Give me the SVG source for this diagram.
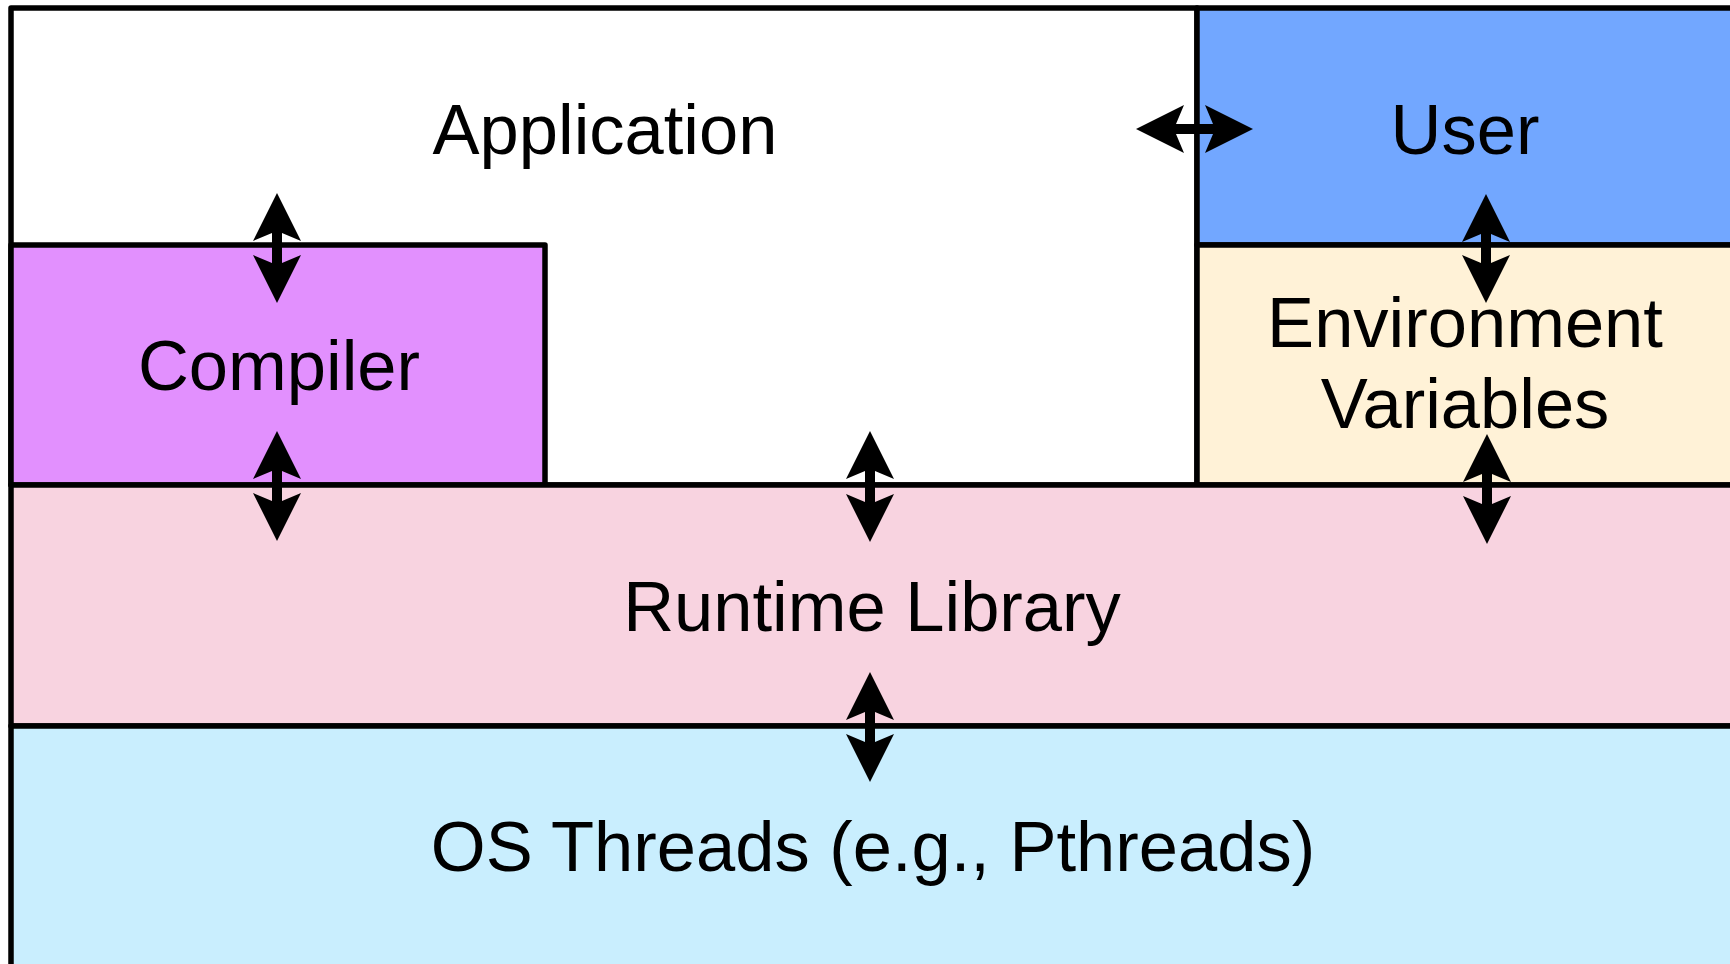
<svg xmlns="http://www.w3.org/2000/svg" width="1730" height="964" viewBox="0 0 1730 964">
  <style>
    .box { stroke: #000; stroke-width: 5.5; stroke-linejoin: round; }
    .label { font-family: "Liberation Sans", Arial, sans-serif; font-size: 70.5px; fill: #000; text-anchor: middle; }
    .arr { fill: #000; stroke: none; }
  </style>
  <rect width="1730" height="964" fill="#ffffff"/>

  <g id="application">
    <rect class="box" x="11" y="8" width="1186" height="477" fill="#ffffff"/>
    <text class="label" x="605" y="154">Application</text>
  </g>

  <g id="user">
    <rect class="box" x="1197" y="8" width="540" height="237" fill="#72A7FF"/>
    <text class="label" x="1465" y="154">User</text>
  </g>

  <g id="environment-variables">
    <rect class="box" x="1197" y="245" width="540" height="240" fill="#FFF2D7"/>
    <text class="label" x="1465" y="347">Environment</text>
    <text class="label" x="1465" y="428">Variables</text>
  </g>

  <g id="compiler">
    <rect class="box" x="11" y="245" width="534" height="240" fill="#E290FE"/>
    <text class="label" x="279" y="390">Compiler</text>
  </g>

  <g id="runtime-library">
    <rect class="box" x="11" y="485" width="1726" height="241" fill="#F8D3E0"/>
    <text class="label" x="872" y="631">Runtime Library</text>
  </g>

  <g id="os-threads">
    <rect class="box" x="11" y="726" width="1726" height="260" fill="#C9EEFE"/>
    <text class="label" x="873" y="871">OS Threads (e.g., Pthreads)</text>
  </g>

  <!-- double-headed arrows: head 48 long, 48 wide, shaft 10 wide -->
  <g id="connectors">
    <!-- Application <-> User -->
    <polygon class="arr" points="1136,129 1184,105 1176,124 1213,124 1205,105 1253,129 1205,153 1213,134 1176,134 1184,153"/>
    <!-- Application <-> Compiler -->
    <polygon class="arr" points="277,193 301,241 282,233 282,263 301,255 277,303 253,255 272,263 272,233 253,241"/>
    <!-- Compiler <-> Runtime Library -->
    <polygon class="arr" points="277,431 301,479 282,471 282,501 301,493 277,541 253,493 272,501 272,471 253,479"/>
    <!-- Application <-> Runtime Library -->
    <polygon class="arr" points="870,431 894,479 875,471 875,502 894,494 870,542 846,494 865,502 865,471 846,479"/>
    <!-- Runtime Library <-> OS Threads -->
    <polygon class="arr" points="870,672 894,720 875,712 875,742 894,734 870,782 846,734 865,742 865,712 846,720"/>
    <!-- User <-> Environment Variables -->
    <polygon class="arr" points="1486,194 1510,242 1491,234 1491,263 1510,255 1486,303 1462,255 1481,263 1481,234 1462,242"/>
    <!-- Environment Variables <-> Runtime Library -->
    <polygon class="arr" points="1487,434 1511,482 1492,474 1492,504 1511,496 1487,544 1463,496 1482,504 1482,474 1463,482"/>
  </g>
</svg>
